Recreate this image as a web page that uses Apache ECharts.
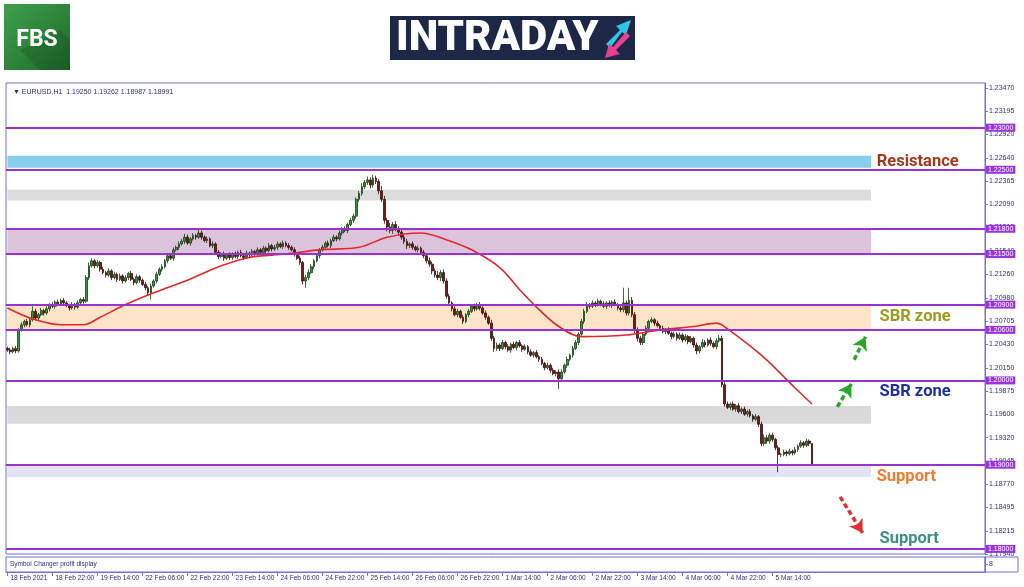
<!DOCTYPE html>
<html><head><meta charset="utf-8">
<script src="https://cdn.jsdelivr.net/npm/echarts@6/dist/echarts.min.js"></script>
<style>html,body{margin:0;padding:0;background:#fff}#c{width:1024px;height:587px}</style>
</head><body><div id="c"></div>
<script>
// ---------- DATA ----------
const symbolHeader = '\u25BC EURUSD,H1  1.19250 1.19262 1.18987 1.18991';
const firstTickLabel = '18 Feb 2021';
const futureBars = 61;          // empty chart-shift space on the right
const tickEvery = 16;
const firstOpen = 1.2038;
const closes = [
1.2036,1.2034,1.2038,1.2035,1.2060,1.2066,1.2070,1.2066,1.2072,1.2082,1.2074,1.2078,1.2083,1.2080,1.2085,1.2090,
1.2088,1.2093,1.2091,1.2095,1.2092,1.2089,1.2086,1.2090,1.2087,1.2092,1.2096,1.2094,1.2122,1.2136,1.2142,1.2136,
1.2140,1.2132,1.2128,1.2125,1.2130,1.2122,1.2126,1.2120,1.2124,1.2118,1.2122,1.2127,1.2120,1.2116,1.2123,1.2119,
1.2114,1.2110,1.2104,1.2112,1.2118,1.2126,1.2132,1.2135,1.2142,1.2148,1.2145,1.2155,1.2158,1.2162,1.2165,1.2170,
1.2163,1.2168,1.2172,1.2170,1.2175,1.2170,1.2166,1.2168,1.2160,1.2162,1.2152,1.2147,1.2150,1.2145,1.2149,1.2146,
1.2150,1.2147,1.2152,1.2148,1.2146,1.2151,1.2149,1.2153,1.2150,1.2155,1.2152,1.2157,1.2154,1.2160,1.2156,1.2158,
1.2162,1.2159,1.2163,1.2160,1.2158,1.2155,1.2150,1.2145,1.2140,1.2118,1.2122,1.2128,1.2135,1.2142,1.2148,1.2155,
1.2158,1.2163,1.2160,1.2166,1.2170,1.2168,1.2175,1.2180,1.2178,1.2185,1.2190,1.2195,1.2215,1.2222,1.2230,1.2235,
1.2238,1.2232,1.2240,1.2236,1.2225,1.2215,1.2190,1.2182,1.2178,1.2185,1.2180,1.2176,1.2170,1.2165,1.2160,1.2162,
1.2158,1.2155,1.2157,1.2152,1.2148,1.2142,1.2138,1.2130,1.2125,1.2122,1.2128,1.2118,1.2100,1.2092,1.2085,1.2078,
1.2082,1.2075,1.2070,1.2078,1.2082,1.2088,1.2085,1.2090,1.2086,1.2080,1.2075,1.2068,1.2050,1.2038,1.2042,1.2038,
1.2045,1.2040,1.2036,1.2043,1.2039,1.2045,1.2041,1.2037,1.2040,1.2034,1.2030,1.2033,1.2028,1.2025,1.2020,1.2015,
1.2018,1.2012,1.2008,1.2010,1.2002,1.2010,1.2018,1.2025,1.2030,1.2038,1.2045,1.2055,1.2070,1.2082,1.2090,1.2088,
1.2092,1.2090,1.2094,1.2091,1.2088,1.2092,1.2089,1.2093,1.2090,1.2086,1.2084,1.2092,1.2080,1.2095,1.2078,1.2060,
1.2050,1.2045,1.2055,1.2062,1.2070,1.2072,1.2068,1.2065,1.2062,1.2058,1.2060,1.2056,1.2052,1.2055,1.2050,1.2054,
1.2048,1.2052,1.2046,1.2050,1.2042,1.2035,1.2040,1.2045,1.2042,1.2048,1.2044,1.2040,1.2047,1.2050,1.1995,1.1972,
1.1968,1.1972,1.1966,1.1970,1.1963,1.1966,1.1960,1.1963,1.1958,1.1954,1.1957,1.1948,1.1925,1.1932,1.1928,1.1935,
1.1930,1.1920,1.1912,1.1912,1.1915,1.1913,1.1916,1.1914,1.1918,1.1922,1.1926,1.1923,1.1928,1.1925,1.18991
];
// wick lengths beyond the body, in pips
const upWick = [
2,3,2,3,2,3,2,3,2,6,3,2,3,2,3,2,
3,2,3,2,3,2,2,3,2,3,2,3,3,4,3,2,
3,2,3,2,3,2,3,2,3,2,3,2,3,2,3,2,
2,3,2,3,2,3,2,3,2,3,2,3,2,3,3,4,
3,2,3,2,4,3,2,3,2,3,2,3,2,3,2,3,
2,3,2,3,2,3,2,3,2,3,2,3,2,3,2,3,
3,2,3,2,3,2,3,2,3,2,3,4,3,2,3,2,
3,2,3,2,3,2,3,2,3,2,3,3,2,3,4,3,
4,3,4,3,3,6,4,3,5,3,4,3,3,4,3,2,
3,2,3,2,3,2,4,3,3,5,3,4,3,3,2,3,
3,2,3,2,3,2,3,2,3,2,3,2,4,3,3,2,
3,2,3,2,3,2,3,2,3,2,3,2,3,2,3,2,
3,2,3,2,3,3,2,3,2,3,3,2,3,3,3,2,
3,2,3,2,3,2,3,2,3,2,3,18,3,15,4,3,
3,3,2,3,2,3,2,3,2,3,2,3,2,3,2,3,
2,3,2,3,2,3,2,4,3,2,3,2,3,4,3,3,
3,2,3,2,3,2,3,2,3,2,3,2,3,4,3,3,
3,2,3,2,3,2,3,2,3,2,3,2,3,2,0.12
];
const downWick = [
2,3,2,3,2,2,3,2,3,2,3,2,2,3,2,3,
2,3,2,2,3,2,3,2,3,2,2,3,2,3,2,3,
2,3,2,3,2,3,2,3,2,3,2,3,2,3,2,3,
2,3,3,8,2,3,2,3,2,3,2,3,2,3,2,3,
2,3,2,3,2,3,2,3,2,3,2,3,2,3,2,3,
3,2,3,2,3,2,3,2,3,2,3,2,3,2,3,2,
3,2,3,2,3,2,3,2,3,4,8,3,2,3,2,3,
2,3,2,3,2,3,2,3,2,3,2,3,3,3,3,3,
3,4,3,3,4,3,4,5,3,4,3,4,3,3,4,3,
3,2,3,2,3,3,3,4,3,3,4,3,3,3,3,2,
3,2,3,2,3,2,3,2,3,2,3,2,3,4,3,3,
2,3,2,3,2,3,2,3,2,3,2,3,2,3,2,3,
2,3,2,3,12,3,2,3,2,3,2,3,2,3,2,3,
2,3,2,3,2,3,2,3,2,3,3,3,3,3,3,4,
4,3,3,2,3,2,3,2,3,2,3,2,3,2,3,2,
3,2,3,2,3,4,3,2,3,2,3,2,3,2,3,3,
2,3,2,3,2,3,2,3,2,3,2,3,3,3,3,3,
3,3,21,3,2,3,2,3,2,3,2,3,2,3,0.04
];
// moving average read at sample bars: [bar index, value]
const maPoints = [
[0,1.2086],[9,1.2073],[19,1.2066],[27,1.2066],[33,1.2075],[42,1.2090],[52,1.2104],[64,1.2119],
[76,1.2136],[86,1.2146],[99,1.2150],[111,1.2155],[125,1.2158],[135,1.2170],[147,1.2175],[156,1.2167],
[165,1.2155],[175,1.2134],[182,1.2108],[189,1.2084],[196,1.2064],[204,1.2052],[220,1.2054],[232,1.2060],
[244,1.2064],[252,1.2068],[254,1.2066],[268,1.2030],[280,1.1991],[286,1.1972]
];
const levels = [1.23, 1.225, 1.218, 1.215, 1.209, 1.206, 1.20, 1.19, 1.18];
const zones = [[1.22525,1.22667],[1.22135,1.22264],[1.2150,1.2180],[1.2060,1.2090],[1.19485,1.19698],[1.18853,1.1900]];
const zoneEndBar = 307;
const yTicks = [1.17940,1.18215,1.18495,1.18770,1.19045,1.19320,1.19600,1.19875,1.20150,1.20430,1.20705,1.20980,1.21260,1.21540,1.21815,1.22090,1.22365,1.22640,1.22920,1.23195,1.23470];
const yMin = 1.1794, yMax = 1.2353;
const notes = [
  {text:'Resistance', bar:309, price:1.22590},
  {text:'SBR zone',   bar:310, price:1.20755},
  {text:'SBR zone',   bar:310, price:1.19870},
  {text:'Support',    bar:309, price:1.18850},
  {text:'Support',    bar:310, price:1.18125}
];
const arrows = [
  {from:[301,1.20245], to:[305,1.20518]},
  {from:[295,1.19687], to:[300,1.19960]},
  {from:[296,1.18618], to:[304,1.18190]}
];
// ---------- STYLES ----------
const zoneColors = ['#86ceea','#dcdcdc','#dcc3dc','#fde3c8','#d9d9d9','#e3e3f8'];
const noteColors = ['#a3391b','#9c9c1e','#1c2ea0','#f27b2c','#3b8f86'];
const arrowColors = ['#2aa52a','#2aa52a','#e03030'];
const frame = '#7373d2', axisText = '#2e2e84';

// ---------- BUILD ----------
const pip = 0.0001, N = closes.length;
const mon = ['Jan','Feb','Mar','Apr','May','Jun','Jul','Aug','Sep','Oct','Nov','Dec'];
const categories = [];
let t = Date.UTC(2021,1,18,6);
while (categories.length < N + futureBars) {
  const d = new Date(t), wd = d.getUTCDay();
  if (wd !== 0 && wd !== 6) categories.push(d.getUTCDate()+' '+mon[d.getUTCMonth()]+' '+String(d.getUTCHours()).padStart(2,'0')+':00');
  t += 3600000;
}
const candles = closes.map((c,i)=>{
  const o = i===0 ? firstOpen : closes[i-1];
  return [o, c, Math.min(o,c)-downWick[i]*pip, Math.max(o,c)+upWick[i]*pip];
});
const showTick = i => i < N && i % tickEvery === 0;

const chart = echarts.init(document.getElementById('c'), null, {renderer:'canvas'});
chart.setOption({
  animation:false,
  backgroundColor:'#fff',
  title:{text:symbolHeader,left:8,top:84,textStyle:{fontSize:7,fontWeight:'normal',color:axisText,fontFamily:'Liberation Sans'}},
  grid:[
    {left:6,right:39,top:83,bottom:33,show:true,borderColor:frame,borderWidth:1},
    {left:6,right:39,top:557,bottom:15,show:true,borderColor:frame,borderWidth:1}
  ],
  xAxis:[
    {type:'category',gridIndex:0,data:categories,boundaryGap:true,axisLine:{show:false},axisTick:{show:false},axisLabel:{show:false},splitLine:{show:false}},
    {type:'category',gridIndex:1,data:categories,boundaryGap:true,
     axisLine:{show:true,lineStyle:{color:frame}},
     axisTick:{show:true,interval:showTick,alignWithLabel:true,length:4,lineStyle:{color:frame}},
     axisLabel:{interval:showTick,align:'left',margin:3,padding:[0,0,0,3],fontSize:6.6,color:axisText,fontFamily:'Liberation Sans',
       formatter:(v,i)=> i===0 ? firstTickLabel : v}}
  ],
  yAxis:[
    {type:'value',gridIndex:0,position:'right',min:yMin,max:yMax,scale:true,
     axisLine:{show:true,lineStyle:{color:frame}},
     axisTick:{show:true,length:3,customValues:yTicks,lineStyle:{color:frame}},
     axisLabel:{customValues:yTicks,fontSize:7,color:axisText,margin:4,fontFamily:'Liberation Sans',formatter:v=>v.toFixed(5)},
     splitLine:{show:false}},
    {type:'value',gridIndex:1,position:'right',min:0,max:16,
     axisLine:{show:true,lineStyle:{color:frame}},
     axisTick:{show:true,length:3,customValues:[8],lineStyle:{color:frame}},
     axisLabel:{customValues:[8],fontSize:7,color:axisText,margin:4,fontFamily:'Liberation Sans'},
     splitLine:{show:false}}
  ],
  series:[
    {name:'zones',type:'line',data:[],z:1,silent:true,
     markArea:{silent:true,data:zones.map((z,k)=>[{coord:[0,z[0]],itemStyle:{color:zoneColors[k]}},{coord:[zoneEndBar,z[1]]}])}},
    {name:'EURUSD',type:'candlestick',data:candles,z:3,barWidth:2.2,
     itemStyle:{color:'#39953a',color0:'#771c1c',borderColor:'#173d17',borderColor0:'#3a0b0b',borderWidth:0.8}},
    {name:'MA',type:'line',data:maPoints,z:4,showSymbol:false,smooth:0.35,lineStyle:{color:'#e02a2a',width:1.6}},
    {name:'levels',type:'line',data:[],z:5,silent:true,
     markLine:{silent:true,precision:5,symbol:['none','none'],
       lineStyle:{color:'#9a33cc',width:2,type:'solid'},
       label:{show:true,position:'end',distance:1,formatter:p=>Number(p.value).toFixed(5),color:'#fff',backgroundColor:'#9a33dd',
              fontSize:7,padding:[1,2,0,2],fontFamily:'Liberation Sans'},
       data:levels.map(v=>({yAxis:v}))}},
    {name:'arrows',type:'line',data:[],z:6,silent:true,
     markLine:{silent:true,precision:5,symbol:['none','arrow'],symbolSize:[12,13],label:{show:false},
       data:arrows.map((a,k)=>[{coord:a.from,lineStyle:{color:arrowColors[k],width:3.5,type:[5,3]},itemStyle:{color:arrowColors[k]}},{coord:a.to}])},
     markPoint:{silent:true,symbol:'circle',symbolSize:0,
       data:notes.map((n,k)=>({coord:[n.bar,n.price],label:{show:true,position:[0,0],align:'left',verticalAlign:'middle',
         formatter:n.text,color:noteColors[k],fontSize:16.5,fontWeight:'bold',fontFamily:'Roboto'}}))}}
  ],
  graphic:[
    {type:'text',left:10,top:561,style:{text:'Symbol Changer profit display',fontSize:6.5,fill:axisText,fontFamily:'Liberation Sans'}},
    {type:'rect',shape:{x:985,y:557,width:33,height:15},style:{fill:'none',stroke:frame,lineWidth:1}},
    // FBS logo
    {type:'rect',shape:{x:4,y:4,width:66,height:66},style:{fill:{type:'linear',x:0,y:0,x2:1,y2:1,colorStops:[{offset:0,color:'#3f9f4c'},{offset:1,color:'#1d6a2b'}]}}},
    {type:'polygon',shape:{points:[[70,40],[70,70],[40,70],[20,50],[60,30]]},style:{fill:'rgba(0,0,0,0.12)'}},
    {type:'text',x:37,y:40,style:{text:'FBS',fill:'#fff',fontSize:23,fontWeight:'bold',fontFamily:'Roboto',align:'center',verticalAlign:'middle'}},
    // INTRADAY logo
    {type:'rect',shape:{x:390,y:16,width:245,height:44},style:{fill:'#1d2746'}},
    {type:'text',x:396,y:39,style:{text:'INTRADAY',fill:'#fff',fontSize:42,fontWeight:900,fontFamily:'Roboto',verticalAlign:'middle'}},
    {type:'polygon',shape:{points:[[606,44],[620,30],[616,26],[631,20],[626,35],[622,32],[610,48]]},style:{fill:'#2ec5e6'}},
    {type:'polygon',shape:{points:[[630,36],[616,50],[620,54],[605,58],[609,44],[613,47],[626,32]]},style:{fill:'#e8418f'}}
  ]
});
</script></body></html>
